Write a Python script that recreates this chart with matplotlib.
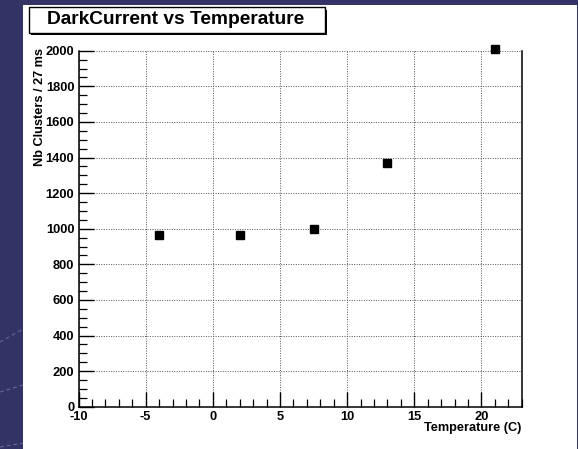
import matplotlib
matplotlib.use('Agg')
import matplotlib.pyplot as plt
from matplotlib.patches import Rectangle
from matplotlib.ticker import MultipleLocator

# data
temperature = [-4, 2, 7.5, 13, 21]
clusters = [963, 963, 998, 1367, 2008]

title = "DarkCurrent vs Temperature"
xlabel = "Temperature (C)"
ylabel = "Nb Clusters / 27 ms"

W, H = 578, 449
plt.rcParams['font.family'] = ['Liberation Sans', 'DejaVu Sans']
plt.rcParams['font.weight'] = 'bold'
plt.rcParams['axes.unicode_minus'] = False

fig = plt.figure(figsize=(W / 100, H / 100), dpi=100, facecolor='#333366')

# white slide area (behind the axes)
fig.patches.append(Rectangle((23 / W, 0), 554 / W, 444 / H, transform=fig.transFigure,
                             facecolor='white', edgecolor='none', zorder=-5))

# faint decorative dashes on the blue strip
for y0, y1 in [(342, 329), (392, 385), (447, 443)]:
    fig.add_artist(plt.Line2D([0, 23 / W], [1 - y0 / H, 1 - y1 / H], transform=fig.transFigure,
                              color='#6c6ca0', lw=0.7, ls=(0, (4, 3)), zorder=-4))

ax = fig.add_axes([78.5 / W, 1 - 406.7 / H, 443.2 / W, 356 / H])
ax.patch.set_alpha(0)
ax.plot(temperature, clusters, 's', color='black', ms=5.2, clip_on=False, zorder=5)

ax.set_xlim(-10, 23)
ax.set_ylim(0, 2000)
ax.xaxis.set_major_locator(MultipleLocator(5))
ax.xaxis.set_minor_locator(MultipleLocator(1))
ax.yaxis.set_major_locator(MultipleLocator(200))
ax.yaxis.set_minor_locator(MultipleLocator(50))

ax.tick_params(which='both', direction='in', top=False, right=False, labelsize=9.3, colors='black')
ax.tick_params(axis='y', which='major', length=11, width=1.0, pad=3)
ax.tick_params(axis='y', which='minor', length=6, width=0.9)
ax.tick_params(axis='x', which='major', length=11, width=1.0, pad=3)
ax.tick_params(axis='x', which='minor', length=6, width=0.9)
for lab in ax.get_xticklabels() + ax.get_yticklabels():
    lab.set_fontweight('bold')

ax.grid(True, which='major', color='#555555', ls=(0, (1, 1.5)), lw=0.7)
ax.spines['top'].set_visible(False)
for s in ['left', 'bottom', 'right']:
    ax.spines[s].set_linewidth(1.1)

fig.text(521 / W, 1 - 428 / H, xlabel, ha='right', va='center', fontsize=9.2, fontweight='bold')
fig.text(40 / W, 1 - 48 / H, ylabel, ha='center', va='top', rotation=90, fontsize=9.2, fontweight='bold')

# ROOT style title box with shadow
fig.patches.append(Rectangle((31 / W, 1 - 35 / H), 296 / W, 25.4 / H, transform=fig.transFigure,
                             facecolor='black', edgecolor='none', zorder=1))
fig.patches.append(Rectangle((29 / W, 1 - 32.7 / H), 296 / W, 25.4 / H, transform=fig.transFigure,
                             facecolor='white', edgecolor='black', lw=1.0, zorder=2))
fig.text(176 / W, 1 - 20 / H, title, ha='center', va='center', fontsize=13.8, fontweight='bold', zorder=3)

fig.savefig('out.png', dpi=100, facecolor=fig.get_facecolor())
